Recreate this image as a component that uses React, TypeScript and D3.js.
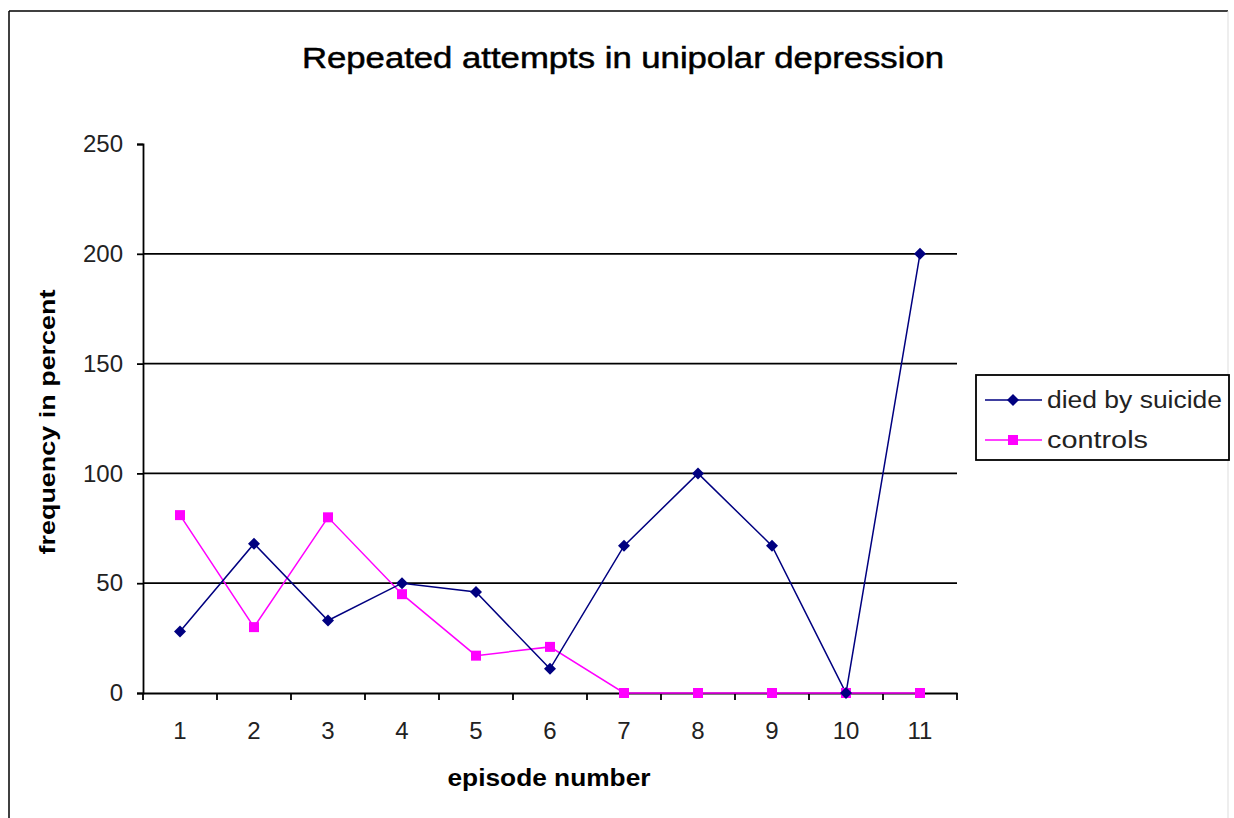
import React, { useEffect, useRef } from 'react';
import * as d3 from 'd3';

// episode numbers on the x axis
const episodes = ['1', '2', '3', '4', '5', '6', '7', '8', '9', '10', '11'];

// frequency in percent
const diedBySuicide = [28, 68, 33, 50, 46, 11, 67, 100, 67, 0, 200];
const controls = [81, 30, 80, 45, 17, 21, 0, 0, 0, 0, 0];

const yTicks = [0, 50, 100, 150, 200, 250];

const seriesNames = ['died by suicide', 'controls'];

const FONT = 'Arial, "Liberation Sans", sans-serif';

// excel-like diamond: as wide as it is tall
const wideDiamond = {
    draw(context: any, size: number) {
        const r = Math.sqrt(size / 2);
        context.moveTo(0, -r);
        context.lineTo(r, 0);
        context.lineTo(0, r);
        context.lineTo(-r, 0);
        context.closePath();
    },
};

const App = () => {
    const ref = useRef<SVGSVGElement | null>(null);

    useEffect(() => {
        if (!ref.current) return;
        const svg = d3.select(ref.current);
        svg.selectAll('*').remove();

        const H = 818;
        const plot = { left: 143, right: 957, top: 144, bottom: 693 };

        // outer frame (cut off at the bottom)
        svg.append('line').attr('x1', 9).attr('x2', 1228).attr('y1', 11).attr('y2', 11)
            .attr('stroke', '#000').attr('stroke-width', 1.5);
        svg.append('line').attr('x1', 9).attr('x2', 9).attr('y1', 11).attr('y2', H)
            .attr('stroke', '#000').attr('stroke-width', 1.5);
        svg.append('line').attr('x1', 1228).attr('x2', 1228).attr('y1', 11).attr('y2', H)
            .attr('stroke', '#ddd').attr('stroke-width', 1);

        const x = d3.scaleBand().domain(episodes).range([plot.left, plot.right]);
        const y = d3.scaleLinear().domain([0, 250]).range([plot.bottom, plot.top]);

        // title
        svg.append('text')
            .attr('x', 623).attr('y', 68)
            .attr('text-anchor', 'middle')
            .attr('textLength', 642).attr('lengthAdjust', 'spacingAndGlyphs')
            .style('font-family', FONT).style('font-size', '29px')
            .attr('fill', '#000').attr('stroke', '#000').attr('stroke-width', 0.5)
            .text('Repeated attempts in unipolar depression');

        // gridlines
        svg.append('g').selectAll('line')
            .data(yTicks.filter(t => t > 0 && t < 250))
            .enter().append('line')
            .attr('x1', plot.left).attr('x2', plot.right)
            .attr('y1', d => y(d)).attr('y2', d => y(d))
            .attr('stroke', '#000').attr('stroke-width', 1.8);

        // y axis
        const yAxis = svg.append('g')
            .attr('transform', `translate(${plot.left},0)`)
            .call(d3.axisLeft(y).tickValues(yTicks).tickSize(6).tickPadding(14));
        yAxis.select('.domain').attr('stroke', '#000').attr('stroke-width', 1.8);
        yAxis.selectAll('.tick line').attr('stroke', '#000').attr('stroke-width', 1.8);
        yAxis.selectAll('text')
            .style('font-family', FONT).style('font-size', '24px').attr('fill', '#222');

        // x axis, ticks between categories
        const xAxis = svg.append('g')
            .attr('transform', `translate(0,${plot.bottom})`)
            .call(d3.axisBottom(x).tickSize(0).tickPadding(29));
        xAxis.select('.domain').attr('stroke', '#000').attr('stroke-width', 1.8);
        xAxis.selectAll('text')
            .style('font-family', FONT).style('font-size', '24px').attr('fill', '#222');
        const bounds = [plot.left].concat(episodes.map(e => (x(e) as number) + x.bandwidth()));
        xAxis.selectAll('line.sep')
            .data(bounds)
            .enter().append('line')
            .attr('class', 'sep')
            .attr('x1', d => d).attr('x2', d => d)
            .attr('y1', 0).attr('y2', 7)
            .attr('stroke', '#000').attr('stroke-width', 1.8);

        // axis titles
        svg.append('text')
            .attr('transform', `translate(55,422) rotate(-90)`)
            .attr('text-anchor', 'middle')
            .attr('textLength', 265).attr('lengthAdjust', 'spacingAndGlyphs')
            .style('font-family', FONT).style('font-size', '22px').style('font-weight', 'bold')
            .text('frequency in percent');
        svg.append('text')
            .attr('x', 549).attr('y', 786)
            .attr('text-anchor', 'middle')
            .attr('textLength', 203).attr('lengthAdjust', 'spacingAndGlyphs')
            .style('font-family', FONT).style('font-size', '23px').style('font-weight', 'bold')
            .text('episode number');

        const cx = (i: number) => (x(episodes[i]) as number) + x.bandwidth() / 2;
        const line = d3.line<number>().x((d, i) => cx(i)).y(d => y(d));

        const diamond = d3.symbol().type(wideDiamond as any).size(72);
        const square = d3.symbol().type(d3.symbolSquare).size(100);

        // controls drawn first, suicide on top
        svg.append('path')
            .datum(controls)
            .attr('d', line)
            .attr('fill', 'none').attr('stroke', '#ff00ff').attr('stroke-width', 1.5);
        svg.append('path')
            .datum(diedBySuicide)
            .attr('d', line)
            .attr('fill', 'none').attr('stroke', '#000080').attr('stroke-width', 1.5);

        svg.append('g').selectAll('path')
            .data(controls)
            .enter().append('path')
            .attr('d', square)
            .attr('transform', (d, i) => `translate(${cx(i)},${y(d)})`)
            .attr('fill', '#ff00ff');
        svg.append('g').selectAll('path')
            .data(diedBySuicide)
            .enter().append('path')
            .attr('d', diamond)
            .attr('transform', (d, i) => `translate(${cx(i)},${y(d)})`)
            .attr('fill', '#000080');

        // legend
        const lg = svg.append('g');
        lg.append('rect')
            .attr('x', 976).attr('y', 375).attr('width', 253).attr('height', 85)
            .attr('fill', '#fff').attr('stroke', '#000').attr('stroke-width', 1.8);
        const colors = ['#000080', '#ff00ff'];
        const widths = [175, 101];
        seriesNames.forEach((name, i) => {
            const ly = 400 + i * 40;
            lg.append('line')
                .attr('x1', 985).attr('x2', 1042).attr('y1', ly).attr('y2', ly)
                .attr('stroke', colors[i]).attr('stroke-width', 1.5);
            lg.append('path')
                .attr('d', i === 0 ? diamond : square)
                .attr('transform', `translate(1013,${ly})`)
                .attr('fill', colors[i]);
            lg.append('text')
                .attr('x', 1047).attr('y', ly + 8)
                .attr('textLength', widths[i]).attr('lengthAdjust', 'spacingAndGlyphs')
                .style('font-family', FONT).style('font-size', '23px')
                .attr('fill', '#222')
                .text(name);
        });
    }, []);

    return (
        <svg ref={ref} width={1234} height={818}
            style={{ position: 'absolute', left: 0, top: 0, background: '#fff' }} />
    );
};

export default App;
